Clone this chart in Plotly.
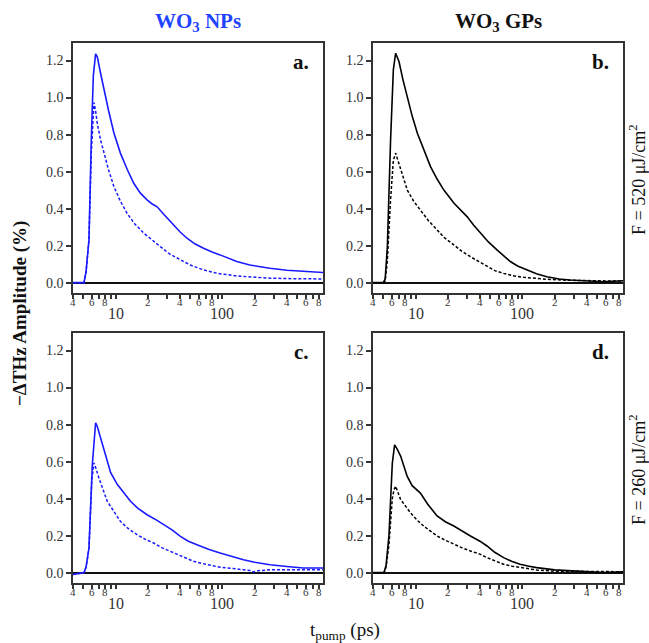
import math
import plotly.graph_objects as go

# ---------------- data ----------------
# Panel a: WO3 NPs, F = 520 uJ/cm2
t_a_solid = [4.0, 4.5, 5.0, 5.07, 5.3, 5.64, 5.93, 6.2, 6.51, 6.75, 7.25, 7.79, 8.6, 9.64, 11.1, 12.9,
             14.8, 17.0, 19.7, 22.0, 24.5, 28.2, 32.6, 40.0, 46.6, 55.0, 66.5, 80.0, 95.0, 115, 136, 180,
             230, 278, 400, 569, 700, 875]
v_a_solid = [0.0, 0.0, 0.0, 0.0, 0.06, 0.23, 0.77, 1.12, 1.236, 1.22, 1.13, 1.04, 0.93, 0.81, 0.70, 0.61,
             0.537, 0.485, 0.447, 0.425, 0.41, 0.37, 0.33, 0.275, 0.24, 0.21, 0.186, 0.165, 0.15, 0.13, 0.114, 0.095,
             0.085, 0.078, 0.067, 0.06, 0.057, 0.055]
t_a_dash = [4.0, 5.0, 5.07, 5.3, 5.64, 5.93, 6.15, 6.29, 6.5, 6.75, 7.25, 7.79, 8.6, 9.64, 11.1, 12.8,
            15.0, 18.4, 22.0, 26.2, 32.0, 40.4, 50.0, 66.5, 90.0, 136, 200, 278, 500, 875]
v_a_dash = [0.0, 0.0, 0.0, 0.06, 0.23, 0.70, 0.92, 0.973, 0.93, 0.86, 0.77, 0.70, 0.61, 0.52, 0.44, 0.375,
            0.32, 0.267, 0.228, 0.195, 0.155, 0.123, 0.095, 0.069, 0.05, 0.036, 0.028, 0.024, 0.021, 0.02]

# Panel b: WO3 GPs, F = 520 uJ/cm2
t_b_solid = [4.0, 5.0, 5.2, 5.45, 5.84, 6.2, 6.51, 7.0, 7.6, 8.37, 9.3, 10.4, 12.0, 13.8, 15.9, 18.4,
             22.8, 26.0, 30.3, 35.0, 40.4, 48.0, 57.7, 66.6, 76.9, 90.0, 110, 135, 169, 220, 278, 400, 569, 875]
v_b_solid = [0.0, 0.0, 0.02, 0.195, 0.77, 1.15, 1.24, 1.195, 1.10, 1.005, 0.90, 0.807, 0.71, 0.627, 0.56, 0.50,
             0.43, 0.395, 0.357, 0.31, 0.267, 0.22, 0.177, 0.145, 0.114, 0.09, 0.068, 0.048, 0.032, 0.02, 0.014,
             0.008, 0.005, 0.01]
t_b_dash = [4.0, 5.0, 5.2, 5.45, 5.84, 6.2, 6.51, 7.25, 8.37, 9.6, 11.1, 13.2, 15.9, 18.4, 22.8, 27.0,
            32.6, 40.0, 46.6, 55.0, 66.5, 80.0, 102, 130, 169, 250, 400, 875]
v_b_dash = [0.0, 0.0, 0.01, 0.12, 0.45, 0.66, 0.70, 0.61, 0.50, 0.44, 0.393, 0.335, 0.285, 0.245, 0.204, 0.17,
            0.14, 0.11, 0.086, 0.065, 0.05, 0.038, 0.029, 0.022, 0.018, 0.013, 0.01, 0.008]

# Panel c: WO3 NPs, F = 260 uJ/cm2
t_c_solid = [4.0, 4.5, 5.07, 5.3, 5.64, 6.06, 6.3, 6.51, 6.75, 7.25, 8.36, 9.0, 10.4, 12.0, 13.8, 16.0,
             19.7, 24.0, 28.2, 34.0, 40.4, 48.0, 57.7, 75.0, 95.0, 120, 157, 200, 278, 400, 569, 875]
v_c_solid = [-0.01, -0.005, 0.0, 0.03, 0.133, 0.58, 0.74, 0.81, 0.79, 0.73, 0.60, 0.54, 0.476, 0.43, 0.386, 0.35,
             0.313, 0.285, 0.26, 0.23, 0.196, 0.17, 0.151, 0.125, 0.106, 0.088, 0.07, 0.056, 0.043, 0.033, 0.025, 0.025]
t_c_dash = [4.0, 5.07, 5.3, 5.64, 6.0, 6.29, 6.5, 7.0, 8.36, 9.6, 11.1, 13.0, 15.9, 19.0, 22.8, 27.0,
            32.6, 40.0, 53.7, 70.0, 95.0, 157, 180, 195, 215, 278, 500, 875]
v_c_dash = [-0.01, 0.0, 0.03, 0.13, 0.50, 0.593, 0.57, 0.51, 0.386, 0.33, 0.277, 0.24, 0.205, 0.18, 0.16, 0.135,
            0.115, 0.09, 0.061, 0.045, 0.029, 0.016, 0.012, 0.004, 0.01, 0.016, 0.016, 0.016]

# Panel d: WO3 GPs, F = 260 uJ/cm2
t_d_solid = [4.0, 5.07, 5.3, 5.64, 6.06, 6.37, 6.7, 7.25, 8.36, 9.3, 11.1, 13.0, 15.9, 19.0, 22.8, 27.0,
             32.6, 40.0, 46.6, 55.0, 66.6, 80.0, 95.0, 115, 136, 200, 278, 569, 875]
v_d_solid = [0.0, 0.0, 0.04, 0.20, 0.59, 0.69, 0.67, 0.63, 0.52, 0.47, 0.43, 0.37, 0.306, 0.275, 0.252, 0.225,
             0.198, 0.17, 0.144, 0.11, 0.081, 0.06, 0.045, 0.035, 0.027, 0.015, 0.009, 0.0, 0.004]
t_d_dash = [4.0, 5.07, 5.3, 5.64, 6.06, 6.3, 6.51, 7.25, 8.98, 10.5, 12.0, 15.9, 19.0, 22.8, 27.0, 32.6,
            40.0, 46.6, 55.0, 66.6, 80.0, 95.0, 136, 200, 400, 875]
v_d_dash = [0.0, 0.0, 0.03, 0.15, 0.40, 0.45, 0.467, 0.395, 0.323, 0.28, 0.25, 0.198, 0.175, 0.153, 0.135, 0.117,
            0.10, 0.081, 0.065, 0.045, 0.035, 0.027, 0.014, 0.008, 0.005, 0.005]

column_titles = ["WO<sub>3</sub> NPs", "WO<sub>3</sub> GPs"]
panel_labels = ["a.", "b.", "c.", "d."]
fluence_labels = ["F = 520 μJ/cm<sup>2</sup>", "F = 260 μJ/cm<sup>2</sup>"]
y_ticks = [0.0, 0.2, 0.4, 0.6, 0.8, 1.0, 1.2]
x_minor_ticks = [4, 5, 6, 7, 8, 9, 20, 30, 40, 50, 60, 70, 80, 90, 200, 300, 400, 500, 600, 700, 800]
x_minor_labeled = [4, 6, 8, 20, 40, 60, 80, 200, 400, 600, 800]
x_minor_labels = ["4", "6", "8", "2", "4", "6", "8", "2", "4", "6", "8"]
x_major_ticks = [10, 100]

# ---------------- styling ----------------
W, H = 649, 643
BLUE_LINE = "#1a1aff"
BLUE_TITLE = "#1f44ff"
FONT = "Liberation Serif"
AX = "#333333"

panels = [
    (t_a_solid, v_a_solid, t_a_dash, v_a_dash, BLUE_LINE),
    (t_b_solid, v_b_solid, t_b_dash, v_b_dash, "#000000"),
    (t_c_solid, v_c_solid, t_c_dash, v_c_dash, BLUE_LINE),
    (t_d_solid, v_d_solid, t_d_dash, v_d_dash, "#000000"),
]

# pixel boxes for the four panels (left, right, top, bottom)
col_x = [(73, 323), (373, 623)]
row_y = [(43, 293), (333, 583)]

fig = go.Figure()
layout = dict(
    width=W, height=H,
    margin=dict(l=0, r=0, t=0, b=0, autoexpand=False),
    paper_bgcolor="white", plot_bgcolor="white",
    showlegend=False,
    font=dict(family=FONT, color=AX),
)

annotations = []
for i, (ts, vs, td, vd, col) in enumerate(panels):
    r, c = divmod(i, 2)
    n = "" if i == 0 else str(i + 1)
    xa, ya = "x" + n, "y" + n
    fig.add_trace(go.Scatter(x=td, y=vd, mode="lines", xaxis=xa, yaxis=ya,
                             line=dict(color=col, width=1.5, dash="3px,2px")))
    fig.add_trace(go.Scatter(x=ts, y=vs, mode="lines", xaxis=xa, yaxis=ya,
                             line=dict(color=col, width=1.6)))
    x0, x1 = col_x[c]
    y0, y1 = row_y[r]
    layout["xaxis" + n] = dict(
        domain=[x0 / W, x1 / W], anchor=ya, type="log",
        range=[math.log10(4), 2.94],
        showline=True, linecolor=AX, linewidth=1.5, mirror=True,
        ticks="outside", ticklen=4, tickwidth=1.5, tickcolor=AX,
        tickvals=x_minor_ticks + x_major_ticks, showticklabels=False,
        showgrid=False, zeroline=False, automargin=False,
    )
    layout["yaxis" + n] = dict(
        domain=[1 - y1 / H, 1 - y0 / H], anchor=xa,
        range=[-0.056, 1.295],
        showline=True, linecolor=AX, linewidth=1.5, mirror=True,
        ticks="outside", ticklen=5, tickwidth=1.5, tickcolor=AX,
        tickvals=y_ticks, ticktext=[f"{v:.1f}" for v in y_ticks],
        tickfont=dict(family=FONT, size=14, color=AX),
        showgrid=False, zeroline=True, zerolinecolor="#111111", zerolinewidth=1.6,
        automargin=False,
    )
    # minor digit labels (small, close to axis)
    for mt, lab in zip(x_minor_labeled, x_minor_labels):
        annotations.append(dict(
            x=math.log10(mt), xref=xa, y=-0.034, yref=ya + " domain",
            text=lab, showarrow=False, xanchor="center", yanchor="middle",
            font=dict(family=FONT, size=11, color=AX)))
    # major decade labels (larger, lower)
    for mt in x_major_ticks:
        annotations.append(dict(
            x=math.log10(mt), xref=xa, y=-0.081, yref=ya + " domain",
            text=str(mt), showarrow=False, xanchor="center", yanchor="middle",
            font=dict(family=FONT, size=16, color=AX)))
    # panel label
    annotations.append(dict(
        x=0.95, xref=xa + " domain", y=0.925, yref=ya + " domain",
        text="<b>" + panel_labels[i] + "</b>", showarrow=False,
        xanchor="right", yanchor="middle",
        font=dict(family=FONT, size=21, color="#111111")))

# column titles
for c, title in enumerate(column_titles):
    x0, x1 = col_x[c]
    annotations.append(dict(
        x=(x0 + x1) / 2 / W, xref="paper", y=1 - 22 / H, yref="paper",
        text="<b>" + title + "</b>", showarrow=False, xanchor="center", yanchor="middle",
        font=dict(family=FONT, size=21, color=BLUE_TITLE if c == 0 else "#111111")))

# fluence labels on the right
for r, lab in enumerate(fluence_labels):
    y0, y1 = row_y[r]
    annotations.append(dict(
        x=637 / W, xref="paper", y=1 - ((y0 + y1) / 2 + 12) / H, yref="paper",
        text=lab, showarrow=False, textangle=-90, xanchor="center", yanchor="middle",
        font=dict(family=FONT, size=18, color="#111111")))

# axis titles
annotations.append(dict(
    x=20 / W, xref="paper", y=1 - 314 / H, yref="paper",
    text="<b>−ΔTHz Amplitude (%)</b>", showarrow=False, textangle=-90,
    xanchor="center", yanchor="middle",
    font=dict(family=FONT, size=19, color="#111111")))
annotations.append(dict(
    x=345 / W, xref="paper", y=1 - 631 / H, yref="paper",
    text="t<sub>pump</sub> (ps)", showarrow=False,
    xanchor="center", yanchor="middle",
    font=dict(family=FONT, size=19, color="#111111")))

layout["annotations"] = annotations
fig.update_layout(**layout)
fig.write_html("out.html")
